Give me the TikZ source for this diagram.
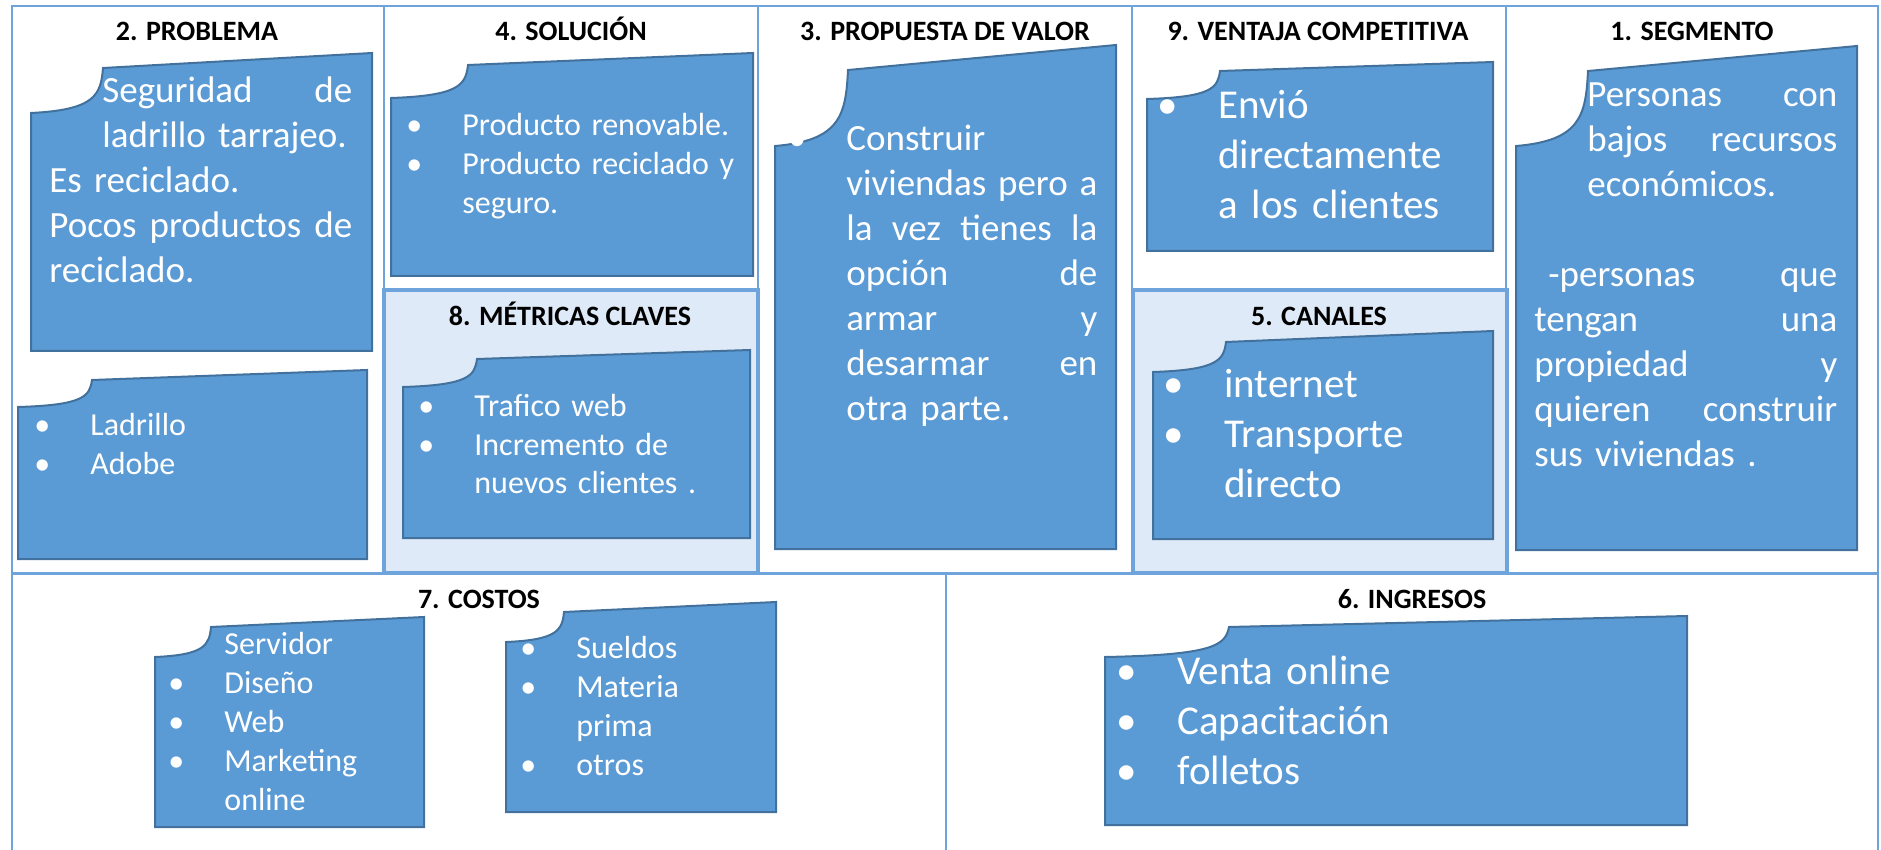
\documentclass[tikz,border=0pt]{standalone}
\usepackage{fontspec}
\setmainfont{Carlito}
\usepackage{xcolor}
\usepackage{tikz}
\definecolor{cardblue}{HTML}{5B9BD5}
\definecolor{cardedge}{HTML}{41719C}
\definecolor{gridblue}{HTML}{6FA3DB}
\definecolor{panelfill}{HTML}{DEEAF7}
\tikzstyle{grid} = [draw=gridblue,line width=1pt]
\tikzstyle{panel} = [fill=panelfill,draw=gridblue,line width=2pt]
\tikzstyle{card} = [fill=cardblue,draw=cardedge,line width=1pt]
\tikzstyle{ttl} = [anchor=base,inner sep=0pt,font=\bfseries\fontsize{14}{16}\selectfont]
\tikzstyle{txt} = [anchor=base west,inner sep=0pt,text=white,align=left]
\tikzstyle{smalltxt} = [txt,font=\fontsize{16}{19.5}\selectfont]
\tikzstyle{midtxt} = [txt,font=\fontsize{18.5}{22.5}\selectfont]
\tikzstyle{bigtxt} = [txt,font=\fontsize{20.5}{25}\selectfont]
% bullet hanging left of the text
\newcommand{\bul}{\leavevmode\llap{\textbullet\hspace{20pt}}}
% justified line, and justified line after an indent
\newcommand{\jl}[1]{\leavevmode\hbox to \hsize{\spaceskip=0.25em plus 1fil\relax #1}}
\newcommand{\jli}[2]{\hspace*{#1}\hbox to \dimexpr\hsize-#1\relax{\spaceskip=0.25em plus 1fil\relax #2}}
% card: x0, y left top, x notch, y notch top, x right, y right top, y bottom
\newcommand{\card}[7]{\draw[card] (#1,#2) .. controls ({#1+0.89*(#3-#1)},{#2-0.07*(#2-#4)}) and ({#3-0.03*(#3-#1)},{#2-0.4*(#2-#4)}) .. (#3,#4) -- (#5,#6) -- (#5,#7) -- (#1,#7) -- cycle;}

\begin{document}
\begin{tikzpicture}[x=0.5pt,y=-0.5pt]
\useasboundingbox (0,0) rectangle (1881,850);

% Frame and cells:
\draw[grid] (12,850) -- (12,6) -- (1878,6) -- (1878,850);
\draw[grid,line width=1.5pt] (12,573) -- (1878,573);
\foreach \x in {384,758,1132,1506}
	\draw[grid] (\x,6) -- (\x,573);
\draw[grid] (946,573) -- (946,850);
\draw[panel] (384,290) rectangle (758,573);
\draw[panel] (1133,290) rectangle (1507,573);

% Titles:
\node[ttl] (t-prob) at (197,41) {2. PROBLEMA};
\node[ttl] (t-sol) at (571,41) {4. SOLUCIÓN};
\node[ttl] (t-prop) at (945,41) {3. PROPUESTA DE VALOR};
\node[ttl] (t-vent) at (1318,41) {9. VENTAJA COMPETITIVA};
\node[ttl] (t-seg) at (1692,41) {1. SEGMENTO};
\node[ttl] (t-met) at (570,326) {8. MÉTRICAS CLAVES};
\node[ttl] (t-can) at (1319,326) {5. CANALES};
\node[ttl] (t-cost) at (479,608) {7. COSTOS};
\node[ttl] (t-ing) at (1412,608) {6. INGRESOS};

% Cards:
\card{31}{113}{103}{68}{372}{53}{351}
\card{18}{407}{92}{380}{367}{370}{559}
\card{391}{98}{468}{65}{753}{53}{276}
\card{403}{387}{477}{359}{750}{350}{538}
\card{775}{146}{848}{70}{1116}{45}{549}
\card{1147}{99}{1220}{71}{1493}{62}{251}
\card{1153}{372}{1226}{342}{1493}{331}{539}
\card{1516}{146}{1588}{71}{1857}{46}{550}
\card{155}{657}{211}{627}{424}{617}{827}
\card{506}{642}{564}{612}{776}{602}{812}
\card{1105}{657}{1229}{627}{1687}{616}{825}

% Card texts:
\node[midtxt,text width=151.5pt] (x-prob) at (49,103)
	{\jli{26.5pt}{Seguridad de}\\ \hspace*{26.5pt}ladrillo tarrajeo.\\ Es reciclado.\\ \jl{Pocos productos de}\\ reciclado.};
\node[smalltxt,text width=138pt] (x-mat) at (90,436)
	{\bul Ladrillo\\ \bul Adobe};
\node[smalltxt,text width=143pt] (x-sol) at (462,136)
	{\bul Producto renovable.\\ \bul Producto reciclado y\\ seguro.};
\node[smalltxt,text width=135pt] (x-met) at (474,416)
	{\bul Trafico web\\ \bul Incremento de\\ nuevos clientes .};
\node[midtxt,text width=125.5pt] (x-prop) at (846,151)
	{\bul Construir\\ \jl{viviendas pero a}\\ \jl{la vez tienes la}\\ \jl{opción de}\\ \jl{armar y}\\ \jl{desarmar en}\\ otra parte.};
\node[bigtxt,text width=136pt] (x-vent) at (1218,119)
	{\bul Envió\\ directamente\\ a los clientes};
\node[bigtxt,text width=133pt] (x-can) at (1224,398)
	{\bul internet\\ \bul Transporte\\ directo};
\node[midtxt,text width=151.5pt] (x-seg) at (1534,107)
	{\jli{26.5pt}{Personas con}\\ \jli{26.5pt}{bajos recursos}\\ \hspace*{26.5pt}económicos.\\ ~\\ \jli{7pt}{-personas que}\\ \jl{tengan una}\\ \jl{propiedad y}\\ \jl{quieren construir}\\ sus viviendas .};
\node[smalltxt,text width=98pt] (x-cost1) at (224,654)
	{Servidor\\ \bul Diseño\\ \bul Web\\ \bul Marketing\\ online};
\node[smalltxt,text width=98pt] (x-cost2) at (576,658)
	{\bul Sueldos\\ \bul Materia\\ prima\\ \bul otros};
\node[bigtxt,text width=250pt] (x-ing) at (1177,684)
	{\bul Venta online\\ \bul Capacitación\\ \bul folletos};

\end{tikzpicture}
\end{document}
